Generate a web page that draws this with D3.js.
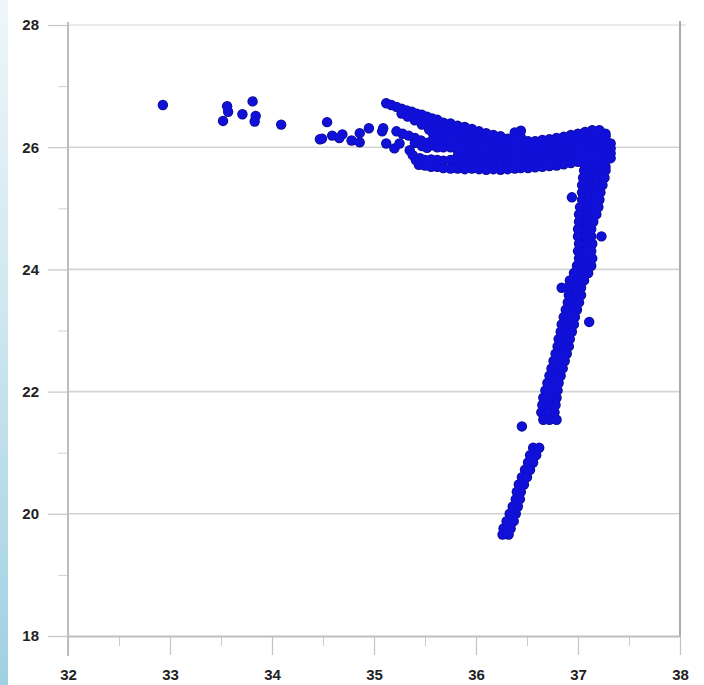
<!DOCTYPE html>
<html>
<head>
<meta charset="utf-8">
<script src="https://cdn.jsdelivr.net/npm/d3@7"></script>
<style>
body { margin:0; background:#fff; }
svg { display:block; }
</style>
</head>
<body>
<svg id="chart" width="704" height="685"></svg>
<script>
var width=704, height=685;

var xTicks=[32,33,34,35,36,37,38];
var xMinor=[32.5,33.5,34.5,35.5,36.5,37.5];
var yTicks=[18,20,22,24,26,28];
var yMinor=[19,21,23,25,27];
var gridValues=[20,22,24,26];

// loose points on the left
var scatterPts=[
	[32.93,26.69],[33.56,26.67],[33.57,26.58],[33.52,26.43],[33.71,26.54],
	[33.81,26.75],[33.84,26.51],[33.83,26.42],[34.09,26.37],[34.54,26.41],
	[34.47,26.13],[34.49,26.14],[34.59,26.19],[34.69,26.21],[34.66,26.15],
	[34.78,26.11],[34.86,26.08],[34.86,26.23],[34.95,26.31],[35.08,26.26],
	[35.09,26.31],[35.12,26.06],[35.20,25.98],[35.25,26.06],[35.22,26.26]
];

// the three fingers left of the main band
var fingerPts=[
	[35.12,26.72],[35.17,26.69],[35.22,26.66],[35.27,26.63],[35.32,26.60],
	[35.37,26.58],[35.42,26.55],[35.47,26.53],[35.52,26.50],[35.57,26.47],
	[35.27,26.55],[35.33,26.50],[35.40,26.44],[35.47,26.37],[35.54,26.29],
	[35.58,26.22],[35.45,26.46],[35.52,26.42],[35.57,26.37],[35.50,26.47],
	[35.28,26.22],[35.34,26.19],[35.40,26.15],[35.46,26.11],[35.52,26.07],
	[35.57,26.03],[35.47,26.02],[35.52,25.99],[35.57,26.11],[35.40,26.07],
	[35.35,25.95],[35.38,25.87],[35.41,25.79],[35.44,25.71],[35.50,25.70],
	[35.50,25.79],[35.56,25.68],[35.56,25.80],[35.45,25.82]
];

// main band: salinity column -> temperatures
var bandCols=[
	[35.62,[25.68,25.79,26.00,26.09,26.18,26.27,26.36,26.45]],
	[35.68,[25.66,25.78,26.00,26.10,26.20,26.30,26.40]],
	[35.75,[25.65,25.79,26.00,26.10,26.20,26.30,26.39]],
	[35.82,[25.65,25.75,25.85,25.95,26.05,26.15,26.25,26.35]],
	[35.89,[25.64,25.74,25.84,25.94,26.04,26.14,26.24,26.33]],
	[35.96,[25.65,25.75,25.85,25.95,26.05,26.15,26.24,26.30]],
	[36.03,[25.64,25.74,25.84,25.94,26.04,26.14,26.26]],
	[36.10,[25.63,25.73,25.83,25.93,26.03,26.13,26.23]],
	[36.17,[25.64,25.74,25.84,25.94,26.04,26.14,26.20]],
	[36.24,[25.63,25.73,25.83,25.93,26.03,26.12,26.18]],
	[36.31,[25.64,25.74,25.84,25.94,26.04,26.14]],
	[36.38,[25.65,25.75,25.85,25.95,26.05,26.14,26.24]],
	[36.44,[25.66,25.76,25.86,25.96,26.06,26.16,26.27]],
	[36.51,[25.66,25.76,25.86,25.96,26.06,26.10]],
	[36.58,[25.67,25.77,25.87,25.97,26.06,26.10]],
	[36.65,[25.68,25.78,25.88,25.98,26.07,26.12]],
	[36.72,[25.69,25.79,25.89,25.99,26.08,26.13]],
	[36.79,[25.70,25.80,25.90,26.00,26.09,26.15]],
	[36.86,[25.72,25.82,25.92,26.02,26.11,26.17]],
	[36.93,[25.74,25.84,25.94,26.04,26.13,26.20]],
	[37.00,[25.76,25.86,25.96,26.06,26.15,26.22]],
	[37.07,[25.70,25.80,25.90,26.00,26.10,26.19,26.25]],
	[37.14,[25.65,25.75,25.85,25.95,26.05,26.15,26.25,26.28]],
	[37.21,[25.62,25.72,25.82,25.92,26.02,26.12,26.22,26.28]],
	[37.27,[25.68,25.78,25.88,25.98,26.08,26.18,26.22]],
	[37.32,[25.82,25.90,25.98,26.06]]
];

// vertical tail: temperature row -> salinities
var tailRows=[
	[25.62,[37.06,37.13,37.20,37.27]],
	[25.50,[37.05,37.12,37.19,37.26]],
	[25.38,[37.04,37.11,37.18,37.24]],
	[25.26,[37.04,37.10,37.17,37.22]],
	[25.14,[37.04,37.10,37.16,37.21]],
	[25.02,[37.02,37.09,37.15,37.20]],
	[24.90,[37.01,37.08,37.14,37.18]],
	[24.78,[37.01,37.08,37.15]],
	[24.66,[37.00,37.07,37.13]],
	[24.54,[37.00,37.07,37.13]],
	[24.42,[37.01,37.08,37.14]],
	[24.30,[37.00,37.07,37.13]],
	[24.18,[37.01,37.08,37.14]],
	[24.06,[36.99,37.06,37.13]],
	[23.94,[36.96,37.03,37.10]],
	[23.82,[36.92,36.99,37.06]],
	[23.70,[36.84,36.90,36.97,37.03]],
	[23.58,[36.91,36.98,37.03]],
	[23.46,[36.90,36.96,37.01]],
	[23.34,[36.88,36.94,36.99]],
	[23.22,[36.86,36.92,36.97]],
	[23.10,[36.84,36.90,36.96]],
	[22.98,[36.83,36.89,36.94]],
	[22.86,[36.81,36.87,36.92]],
	[22.74,[36.80,36.86,36.91]],
	[22.62,[36.78,36.84,36.89]],
	[22.50,[36.76,36.82,36.87]],
	[22.38,[36.74,36.80,36.85]],
	[22.26,[36.72,36.78,36.83]],
	[22.14,[36.70,36.76,36.81]],
	[22.02,[36.68,36.74,36.80]],
	[21.90,[36.66,36.72,36.79]],
	[21.78,[36.65,36.71,36.78]],
	[21.66,[36.64,36.70,36.77]],
	[21.54,[36.66,36.72,36.79]],
	[21.08,[36.56,36.62]],
	[20.96,[36.53,36.59]],
	[20.84,[36.51,36.56]],
	[20.72,[36.48,36.53]],
	[20.60,[36.45,36.50]],
	[20.48,[36.42,36.47]],
	[20.36,[36.40,36.44]],
	[20.24,[36.39,36.43]],
	[20.12,[36.36,36.41]],
	[20.00,[36.33,36.39]],
	[19.88,[36.30,36.37]],
	[19.76,[36.27,36.34]],
	[19.66,[36.26,36.32]]
];

var tailOutliers=[[36.94,25.18],[37.23,24.54],[37.11,23.14],[36.45,21.43]];

var points=scatterPts.concat(fingerPts);
bandCols.forEach(function(c){ c[1].forEach(function(t){ points.push([c[0],t]); }); });
tailRows.forEach(function(r){ r[1].forEach(function(s){ points.push([s,r[0]]); }); });
points=points.concat(tailOutliers);

var svg=d3.select('#chart');

var x=d3.scaleLinear().domain([32,38]).range([68,680]);
var y=d3.scaleLinear().domain([18,28]).range([636,25]);

// light blue strip on the left edge
var grad=svg.append('defs').append('linearGradient')
	.attr('id','strip').attr('x1',0).attr('y1',0).attr('x2',0).attr('y2',1);
grad.append('stop').attr('offset','0%').attr('stop-color','#eef6f9');
grad.append('stop').attr('offset','45%').attr('stop-color','#cfe7f0');
grad.append('stop').attr('offset','100%').attr('stop-color','#9fd0e1');
svg.append('rect').attr('x',0).attr('y',0).attr('width',8).attr('height',height)
	.attr('fill','url(#strip)');

// grid
svg.append('g').selectAll('line').data(gridValues).enter().append('line')
	.attr('x1',x(32)).attr('x2',x(38))
	.attr('y1',function(d){return y(d);}).attr('y2',function(d){return y(d);})
	.attr('stroke','#d3d3d3').attr('stroke-width',1.6);

svg.append('line').attr('x1',x(32)).attr('x2',x(38)+6).attr('y1',y(28)).attr('y2',y(28))
	.attr('stroke','#e4e4e4').attr('stroke-width',1.5);
svg.append('line').attr('x1',x(38)).attr('x2',x(38)).attr('y1',y(28)-4).attr('y2',y(18))
	.attr('stroke','#aaaaaa').attr('stroke-width',2);

// axes
function styleAxis(g){
	g.selectAll('.domain').attr('stroke','#bdbdbd').attr('stroke-width',2);
	g.selectAll('.tick line').attr('stroke','#c4c4c4').attr('stroke-width',1.2);
	g.selectAll('text').attr('fill','#222').style('font-family','"Liberation Sans", Arial, sans-serif')
		.style('font-size','15px').style('font-weight','bold');
}

var xAxisMinor=svg.append('g').attr('transform','translate(0,'+y(18)+')')
	.call(d3.axisBottom(x).tickValues(xMinor).tickSize(10).tickSizeOuter(0).tickFormat(''));
xAxisMinor.select('.domain').remove();
xAxisMinor.selectAll('.tick line').attr('stroke','#cccccc');

var xAxis=svg.append('g').attr('transform','translate(0,'+y(18)+')')
	.call(d3.axisBottom(x).tickValues(xTicks).tickSize(19).tickSizeOuter(0).tickPadding(14).tickFormat(d3.format('d')));
styleAxis(xAxis);

var yAxisMinor=svg.append('g').attr('transform','translate('+x(32)+',0)')
	.call(d3.axisLeft(y).tickValues(yMinor).tickSize(10).tickSizeOuter(0).tickFormat(''));
yAxisMinor.select('.domain').remove();
yAxisMinor.selectAll('.tick line').attr('stroke','#d0d0d0');

var yAxis=svg.append('g').attr('transform','translate('+x(32)+',0)')
	.call(d3.axisLeft(y).tickValues(yTicks).tickSize(20).tickSizeOuter(0).tickPadding(9).tickFormat(d3.format('d')));
styleAxis(yAxis);
yAxis.select('.domain').attr('d','M0,'+(y(28)-3)+'V'+(y(18)+20));

// dots: dark rim layer then blue fill layer
var dots=svg.append('g');
dots.selectAll('circle.rim').data(points).enter().append('circle')
	.attr('class','rim')
	.attr('cx',function(d){return x(d[0]);})
	.attr('cy',function(d){return y(d[1]);})
	.attr('r',5.2)
	.attr('fill','#0c0c86');
dots.selectAll('circle.fill').data(points).enter().append('circle')
	.attr('class','fill')
	.attr('cx',function(d){return x(d[0]);})
	.attr('cy',function(d){return y(d[1]);})
	.attr('r',4.5)
	.attr('fill','#1010d8');
</script>
</body>
</html>
